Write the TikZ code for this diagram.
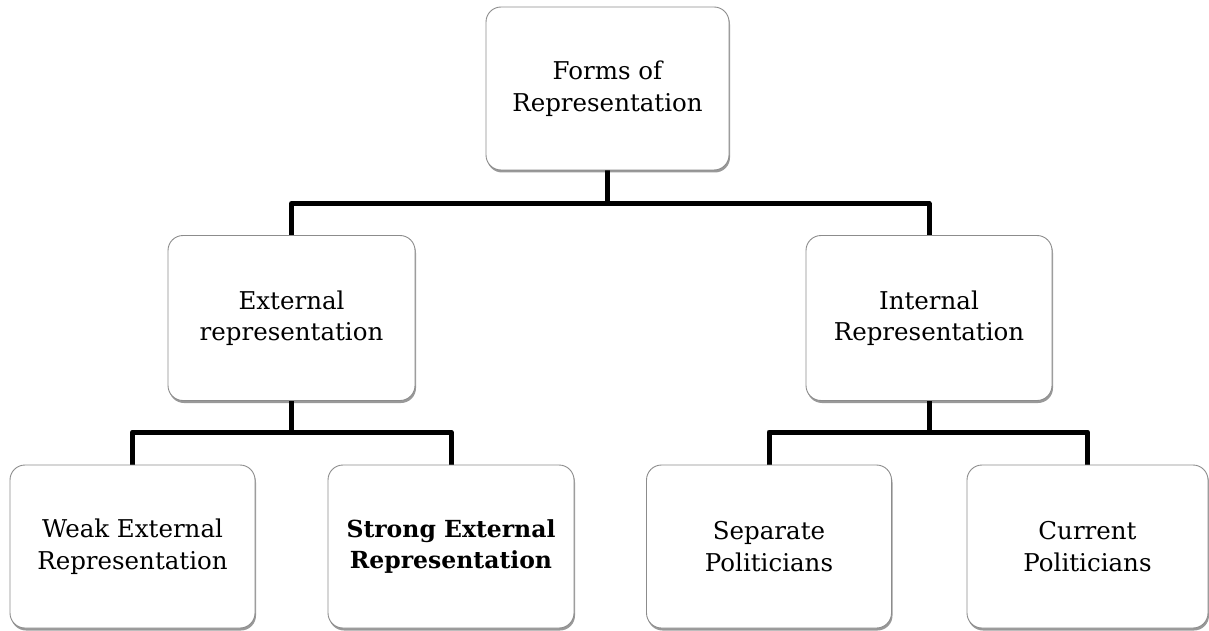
\documentclass[tikz,border=0pt]{standalone}
\usepackage{fontspec}
\setmainfont{DejaVu Serif}
\usetikzlibrary{shadows,backgrounds}
\tikzset{
  box/.style={rectangle, rounded corners=15pt, draw=black!45, line width=0.9pt, fill=white,
    drop shadow={shadow xshift=1pt, shadow yshift=-2.5pt, fill=black, opacity=0.4},
    align=center, font=\fontsize{24.5}{31.5}\selectfont, inner sep=0pt},
  boldtext/.style={font=\fontsize{23.5}{31.5}\selectfont\bfseries},
  conn/.style={line width=5pt, draw=black, line join=round},
}
\begin{document}
\begin{tikzpicture}[x=1pt,y=1pt]
\useasboundingbox (0,0) rectangle (1209,-631);
\node[box, minimum width=243pt, minimum height=163pt] (top) at (607.5,-88.5) {Forms of\\Representation};
\node[box, minimum width=247pt, minimum height=165pt] (ext) at (291.5,-318) {External\\representation};
\node[box, minimum width=246pt, minimum height=165pt] (int) at (929,-318) {Internal\\Representation};
\node[box, minimum width=245pt, minimum height=163pt] (weak) at (132.5,-546.5) {Weak External\\Representation};
\node[box, boldtext, minimum width=246pt, minimum height=163pt] (strong) at (451,-546.5) {Strong External\\Representation};
\node[box, minimum width=245pt, minimum height=163pt] (sep) at (769,-546.5) {Separate\\Politicians};
\node[box, minimum width=241pt, minimum height=163pt] (cur) at (1087.5,-546.5) {Current\\Politicians};
\coordinate (b1) at (607.5,-203.5);
\coordinate (b2) at (291.5,-432);
\coordinate (b3) at (929,-432);
\begin{scope}[on background layer]
\draw[conn] (top.south) -- (b1);
\draw[conn] (ext.north) |- (b1);
\draw[conn] (int.north) |- (b1);
\draw[conn] (ext.south) -- (b2);
\draw[conn] (weak.north) |- (b2);
\draw[conn] (strong.north) |- (b2);
\draw[conn] (int.south) -- (b3);
\draw[conn] (sep.north) |- (b3);
\draw[conn] (cur.north) |- (b3);
\end{scope}
\end{tikzpicture}
\end{document}
